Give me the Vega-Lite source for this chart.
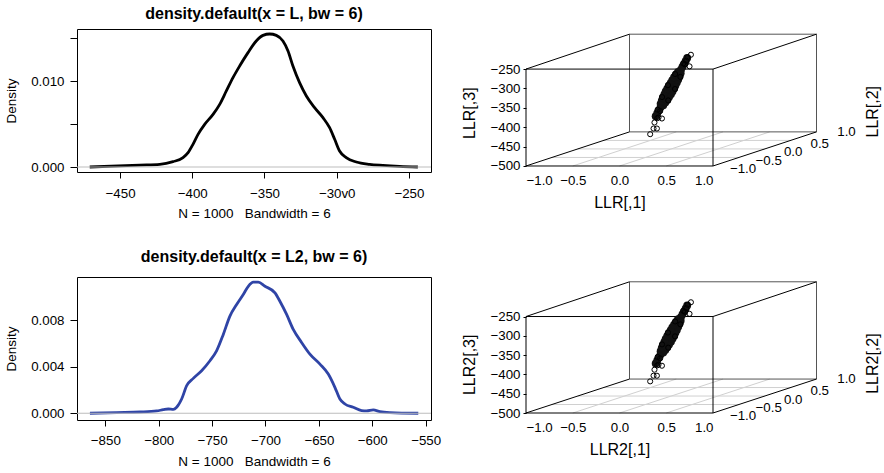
{
  "$schema": "https://vega.github.io/schema/vega-lite/v6.json",
  "background": "white",
  "padding": {"left": 4, "top": 5, "right": 0, "bottom": 0},
  "config": {
    "font": "Liberation Sans",
    "view": {"stroke": "#000", "strokeWidth": 1},
    "axis": {"labelFont": "Liberation Sans", "titleFont": "Liberation Sans", "labelFontSize": 13.3, "titleFontSize": 13.5, "titleFontWeight": "normal", "labelColor": "#000", "titleColor": "#000", "tickColor": "#000", "domain": false, "grid": false, "labelOverlap": false},
    "title": {"font": "Liberation Sans", "fontSize": 16, "fontWeight": "bold", "color": "#000"}
  },
  "datasets": {
    "d1": [
      {"x": -471.0, "y": 0}, {"x": -436.4, "y": 0.00023}, {"x": -422.5, "y": 0.00031}, {"x": -413.3, "y": 0.00062},
      {"x": -406.4, "y": 0.00109}, {"x": -402.9, "y": 0.00167}, {"x": -399.5, "y": 0.00264}, {"x": -396.0, "y": 0.0038},
      {"x": -391.4, "y": 0.00496}, {"x": -385.6, "y": 0.00612}, {"x": -381.0, "y": 0.00729}, {"x": -376.4, "y": 0.00884},
      {"x": -371.8, "y": 0.01039}, {"x": -367.2, "y": 0.01174}, {"x": -361.4, "y": 0.0133}, {"x": -355.7, "y": 0.01465},
      {"x": -351.0, "y": 0.01531}, {"x": -346.4, "y": 0.01547}, {"x": -341.8, "y": 0.01531}, {"x": -337.2, "y": 0.01465},
      {"x": -333.7, "y": 0.01349}, {"x": -330.3, "y": 0.01174}, {"x": -325.7, "y": 0.00981}, {"x": -321.0, "y": 0.00826},
      {"x": -315.3, "y": 0.0069}, {"x": -309.5, "y": 0.00574}, {"x": -304.9, "y": 0.00457}, {"x": -301.4, "y": 0.00322},
      {"x": -298.0, "y": 0.00186}, {"x": -293.4, "y": 0.00109}, {"x": -286.4, "y": 0.00058}, {"x": -277.2, "y": 0.00031},
      {"x": -268.0, "y": 0.00019}, {"x": -256.5, "y": 0.00008}, {"x": -243.8, "y": 0}
    ],
    "d2": [
      {"x": -864.4, "y": 0}, {"x": -839.4, "y": 0.00006}, {"x": -817.5, "y": 0.00011}, {"x": -801.9, "y": 0.0002},
      {"x": -795.7, "y": 0.00031}, {"x": -791.0, "y": 0.00037}, {"x": -786.3, "y": 0.00034}, {"x": -783.2, "y": 0.00052},
      {"x": -778.5, "y": 0.00123}, {"x": -773.8, "y": 0.00238}, {"x": -767.6, "y": 0.00301}, {"x": -759.8, "y": 0.00367},
      {"x": -752.0, "y": 0.00453}, {"x": -745.8, "y": 0.00538}, {"x": -739.5, "y": 0.0068}, {"x": -733.3, "y": 0.00838},
      {"x": -727.0, "y": 0.00938}, {"x": -720.8, "y": 0.01024}, {"x": -716.1, "y": 0.01095}, {"x": -711.4, "y": 0.0113},
      {"x": -706.7, "y": 0.0113}, {"x": -700.5, "y": 0.01095}, {"x": -691.1, "y": 0.01038}, {"x": -686.5, "y": 0.00966},
      {"x": -680.2, "y": 0.00852}, {"x": -674.0, "y": 0.00723}, {"x": -666.2, "y": 0.00611}, {"x": -658.4, "y": 0.0051},
      {"x": -649.0, "y": 0.00424}, {"x": -641.2, "y": 0.00338}, {"x": -635.0, "y": 0.00224}, {"x": -630.3, "y": 0.00123},
      {"x": -625.6, "y": 0.0008}, {"x": -617.8, "y": 0.00052}, {"x": -610.0, "y": 0.00023}, {"x": -605.3, "y": 0.0002},
      {"x": -599.1, "y": 0.00029}, {"x": -592.8, "y": 0.00014}, {"x": -583.5, "y": 0.00006}, {"x": -556.9, "y": 0}
    ],
    "grid3d": [
      {"h": -0.723, "z": -478, "h2": 1.277, "z2": -478},
      {"h": -0.447, "z": -456, "h2": 1.553, "z2": -456},
      {"h": -0.170, "z": -434, "h2": 1.830, "z2": -434},
      {"h": -0.5, "z": -500, "h2": 0.607, "z2": -412},
      {"h": 0, "z": -500, "h2": 1.107, "z2": -412},
      {"h": 0.5, "z": -500, "h2": 1.607, "z2": -412}
    ],
    "back3d": [
      {"h": 0.107, "z": -160, "h2": 2.107, "z2": -160},
      {"h": 2.107, "z": -160, "h2": 2.107, "z2": -412},
      {"h": 2.107, "z": -412, "h2": 0.107, "z2": -412},
      {"h": 0.107, "z": -412, "h2": 0.107, "z2": -160}
    ],
    "front3d": [
      {"h": -1, "z": -250, "h2": 1, "z2": -250},
      {"h": 1, "z": -250, "h2": 1, "z2": -500},
      {"h": 1, "z": -500, "h2": -1, "z2": -500},
      {"h": -1, "z": -500, "h2": -1, "z2": -250},
      {"h": -1, "z": -250, "h2": 0.107, "z2": -160},
      {"h": 1, "z": -250, "h2": 2.107, "z2": -160},
      {"h": -1, "z": -500, "h2": 0.107, "z2": -412},
      {"h": 1, "z": -500, "h2": 2.107, "z2": -412}
    ],
    "core3d": [
      {"h": 0.387, "z": -371.5}, {"h": 0.404, "z": -364.0}, {"h": 0.421, "z": -356.5}, {"h": 0.438, "z": -349.0},
      {"h": 0.454, "z": -341.5}, {"h": 0.468, "z": -343.4}, {"h": 0.440, "z": -339.7},
      {"h": 0.471, "z": -334.0}, {"h": 0.490, "z": -336.5}, {"h": 0.452, "z": -331.5},
      {"h": 0.488, "z": -326.5}, {"h": 0.512, "z": -329.6}, {"h": 0.464, "z": -323.4},
      {"h": 0.505, "z": -319.0}, {"h": 0.530, "z": -322.3}, {"h": 0.480, "z": -315.7},
      {"h": 0.522, "z": -311.5}, {"h": 0.550, "z": -315.2}, {"h": 0.494, "z": -307.8},
      {"h": 0.539, "z": -304.0}, {"h": 0.567, "z": -307.7}, {"h": 0.511, "z": -300.3},
      {"h": 0.556, "z": -296.5}, {"h": 0.584, "z": -300.2}, {"h": 0.528, "z": -292.8},
      {"h": 0.573, "z": -289.0}, {"h": 0.598, "z": -292.3}, {"h": 0.548, "z": -285.7},
      {"h": 0.589, "z": -281.5}, {"h": 0.613, "z": -284.6}, {"h": 0.565, "z": -278.4},
      {"h": 0.606, "z": -274.0}, {"h": 0.628, "z": -276.8}, {"h": 0.584, "z": -271.2},
      {"h": 0.623, "z": -266.5}, {"h": 0.642, "z": -269.0}, {"h": 0.604, "z": -264.0},
      {"h": 0.640, "z": -259.0}, {"h": 0.654, "z": -260.9}, {"h": 0.626, "z": -257.1},
      {"h": 0.657, "z": -251.5}, {"h": 0.674, "z": -244.0}, {"h": 0.691, "z": -236.5},
      {"h": 0.708, "z": -229.0}, {"h": 0.724, "z": -221.5}
    ],
    "outl3d": [
      {"h": 0.328, "z": -418.0}, {"h": 0.364, "z": -403.3}, {"h": 0.400, "z": -403.3}, {"h": 0.374, "z": -387.8},
      {"h": 0.403, "z": -376.7}, {"h": 0.417, "z": -374.9}, {"h": 0.454, "z": -377.5},
      {"h": 0.764, "z": -213.0}, {"h": 0.728, "z": -219.8}, {"h": 0.714, "z": -228.5}, {"h": 0.749, "z": -243.0},
      {"h": 0.435, "z": -358.4}, {"h": 0.407, "z": -354.7}, {"h": 0.521, "z": -330.8}, {"h": 0.455, "z": -322.2},
      {"h": 0.594, "z": -301.4}, {"h": 0.518, "z": -291.6}, {"h": 0.651, "z": -270.2}, {"h": 0.595, "z": -262.8},
      {"h": 0.700, "z": -237.7}, {"h": 0.682, "z": -235.3}
    ],
    "depth3d": [
      {"h": 1.321, "z": -509, "lab": "\u22121.0"},
      {"h": 1.596, "z": -487, "lab": "\u22120.5"},
      {"h": 1.857, "z": -465, "lab": "0.0"},
      {"h": 2.142, "z": -444, "lab": "0.5"},
      {"h": 2.428, "z": -412, "lab": "1.0"}
    ]
  },
  "columns": 2,
  "bounds": "flush",
  "spacing": {"row": 105, "column": 95},
  "concat": [
    {
      "width": 354, "height": 143,
      "title": {"text": "density.default(x = L, bw = 6)", "offset": 6.5},
      "layer": [
        {
          "data": {"name": "d1"},
          "mark": {"type": "line", "color": "#000", "strokeWidth": 2.8, "interpolate": "monotone"},
          "encoding": {
            "x": {"field": "x", "type": "quantitative", "scale": {"domain": [-479.8, -234.7], "nice": false, "zero": false},
                  "axis": {"values": [-450, -400, -350, -300, -250], "format": "d", "labelOverlap": false, "labelExpr": "datum.value == -300 ? '\u221230v0' : datum.label", "title": "N = 1000\u00a0\u00a0 Bandwidth = 6", "tickSize": 6, "labelPadding": 8, "titlePadding": 7}},
            "y": {"field": "y", "type": "quantitative", "scale": {"domain": [-0.00058, 0.01605], "nice": false, "zero": false},
                  "axis": {"values": [0, 0.005, 0.01, 0.015], "format": ".3f", "labelOverlap": false, "labelExpr": "round(datum.value * 1000) % 10 == 0 ? datum.label : ''", "title": "Density", "tickSize": 7, "labelPadding": 6, "titlePadding": 12}}
          }
        },
        {
          "data": {"values": [{"zero": 0}]},
          "mark": {"type": "rule", "color": "#bdbdbd", "strokeWidth": 1.2},
          "encoding": {"y": {"field": "zero", "type": "quantitative"}}
        }
      ]
    },
    {
      "width": 187, "height": 143,
      "view": {"stroke": null},
      "encoding": {
        "x": {"field": "h", "type": "quantitative", "title": "LLR[,1]", "scale": {"domain": [-1, 1], "nice": false, "zero": false},
              "axis": {"values": [-1, -0.5, 0, 0.5, 1], "format": ".1f", "labelOverlap": false, "ticks": false, "labelPadding": 1, "titleFontSize": 16, "titlePadding": 8}},
        "y": {"field": "z", "type": "quantitative", "title": "LLR[,3]", "scale": {"domain": [-515.5, -146.6], "nice": false, "zero": false},
              "axis": {"values": [-500, -450, -400, -350, -300, -250], "format": "d", "labelOverlap": false, "labelFlush": false, "tickSize": 3, "labelPadding": 3, "titleFontSize": 16, "titlePadding": 13, "titleY": 83.7}}
      },
      "layer": [
        {
          "data": {"name": "grid3d"},
          "mark": {"type": "rule", "color": "#d0d0d0", "strokeWidth": 1},
          "encoding": {"x2": {"field": "h2"}, "y2": {"field": "z2"}}
        },
        {
          "data": {"name": "back3d"},
          "mark": {"type": "rule", "color": "#555555", "strokeWidth": 1},
          "encoding": {"x2": {"field": "h2"}, "y2": {"field": "z2"}}
        },
        {
          "data": {"name": "front3d"},
          "mark": {"type": "rule", "color": "#000", "strokeWidth": 1},
          "encoding": {"x2": {"field": "h2"}, "y2": {"field": "z2"}}
        },
        {
          "data": {"name": "core3d"},
          "mark": {"type": "point", "shape": "circle", "filled": true, "size": 62, "color": "#111", "opacity": 1},
          "encoding": {}
        },
        {
          "data": {"name": "outl3d"},
          "mark": {"type": "point", "shape": "circle", "filled": false, "size": 26, "color": "#000", "strokeWidth": 1, "opacity": 1},
          "encoding": {}
        },
        {
          "data": {"name": "depth3d"},
          "mark": {"type": "text", "fontSize": 13.3, "align": "center", "baseline": "middle", "color": "#000"},
          "encoding": {"text": {"field": "lab"}}
        },
        {
          "data": {"values": [{"t": "LLR[,2]", "h": 2.714, "z": -360}]},
          "mark": {"type": "text", "fontSize": 16, "angle": 270, "align": "center", "baseline": "middle", "color": "#000"},
          "encoding": {"text": {"field": "t"}}
        }
      ]
    },
    {
      "width": 354, "height": 143,
      "title": {"text": "density.default(x = L2, bw = 6)", "offset": 11.5},
      "layer": [
        {
          "data": {"name": "d2"},
          "mark": {"type": "line", "color": "#2f44a6", "strokeWidth": 2.8, "interpolate": "monotone"},
          "encoding": {
            "x": {"field": "x", "type": "quantitative", "scale": {"domain": [-876.5, -545], "nice": false, "zero": false},
                  "axis": {"values": [-850, -800, -750, -700, -650, -600, -550], "format": "d", "labelOverlap": false, "title": "N = 1000\u00a0\u00a0 Bandwidth = 6", "tickSize": 6, "labelPadding": 7, "titlePadding": 8.5}},
            "y": {"field": "y", "type": "quantitative", "scale": {"domain": [-0.00058, 0.01175], "nice": false, "zero": false},
                  "axis": {"values": [0, 0.002, 0.004, 0.006, 0.008, 0.01], "format": ".3f", "labelOverlap": false, "labelExpr": "round(datum.value * 1000) % 4 == 0 ? datum.label : ''", "title": "Density", "tickSize": 7, "labelPadding": 6, "titlePadding": 12}}
          }
        },
        {
          "data": {"values": [{"zero": 0}]},
          "mark": {"type": "rule", "color": "#bdbdbd", "strokeWidth": 1.2},
          "encoding": {"y": {"field": "zero", "type": "quantitative"}}
        }
      ]
    },
    {
      "width": 187, "height": 143,
      "view": {"stroke": null},
      "encoding": {
        "x": {"field": "h", "type": "quantitative", "title": "LLR2[,1]", "scale": {"domain": [-1, 1], "nice": false, "zero": false},
              "axis": {"values": [-1, -0.5, 0, 0.5, 1], "format": ".1f", "labelOverlap": false, "ticks": false, "labelPadding": 0, "titleFontSize": 16, "titlePadding": 8}},
        "y": {"field": "z", "type": "quantitative", "title": "LLR2[,3]", "scale": {"domain": [-518.1, -147.6], "nice": false, "zero": false},
              "axis": {"values": [-500, -450, -400, -350, -300, -250], "format": "d", "labelOverlap": false, "labelFlush": false, "tickSize": 3, "labelPadding": 3, "titleFontSize": 16, "titlePadding": 13, "titleY": 87.3}}
      },
      "layer": [
        {
          "data": {"name": "grid3d"},
          "mark": {"type": "rule", "color": "#d0d0d0", "strokeWidth": 1},
          "encoding": {"x2": {"field": "h2"}, "y2": {"field": "z2"}}
        },
        {
          "data": {"name": "back3d"},
          "mark": {"type": "rule", "color": "#555555", "strokeWidth": 1},
          "encoding": {"x2": {"field": "h2"}, "y2": {"field": "z2"}}
        },
        {
          "data": {"name": "front3d"},
          "mark": {"type": "rule", "color": "#000", "strokeWidth": 1},
          "encoding": {"x2": {"field": "h2"}, "y2": {"field": "z2"}}
        },
        {
          "data": {"name": "core3d"},
          "mark": {"type": "point", "shape": "circle", "filled": true, "size": 62, "color": "#111", "opacity": 1},
          "encoding": {}
        },
        {
          "data": {"name": "outl3d"},
          "mark": {"type": "point", "shape": "circle", "filled": false, "size": 26, "color": "#000", "strokeWidth": 1, "opacity": 1},
          "encoding": {}
        },
        {
          "data": {"name": "depth3d"},
          "mark": {"type": "text", "fontSize": 13.3, "align": "center", "baseline": "middle", "color": "#000"},
          "encoding": {"text": {"field": "lab"}}
        },
        {
          "data": {"values": [{"t": "LLR2[,2]", "h": 2.714, "z": -372}]},
          "mark": {"type": "text", "fontSize": 16, "angle": 270, "align": "center", "baseline": "middle", "color": "#000"},
          "encoding": {"text": {"field": "t"}}
        }
      ]
    }
  ]
}
